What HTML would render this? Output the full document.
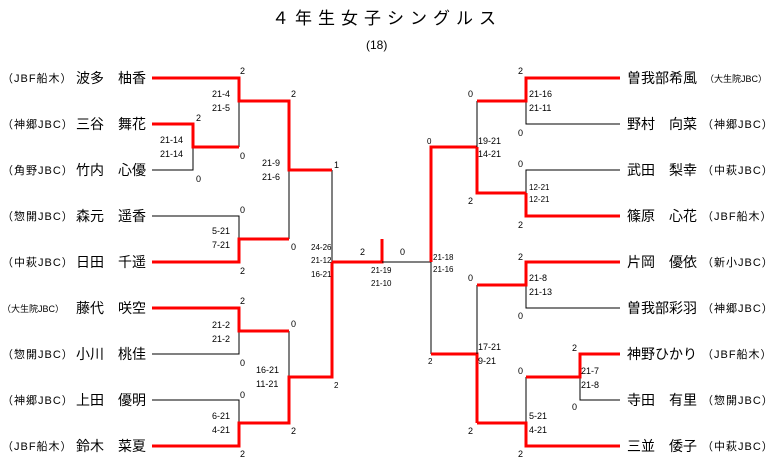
<!DOCTYPE html>
<html><head><meta charset="utf-8"><style>
html,body{margin:0;padding:0;background:#fff;width:773px;height:470px;overflow:hidden}
svg{display:block}
text{font-family:"Liberation Sans","Noto Sans CJK JP",sans-serif;fill:#000}
.s{font-size:9px}
.n{font-size:14px}
.a{font-size:11px;letter-spacing:1px}
.r{stroke:#f00;stroke-width:3;fill:none}
.b{stroke:#000;stroke-width:1;fill:none}
path{shape-rendering:crispEdges}
</style></head><body>
<svg width="773" height="470" xmlns="http://www.w3.org/2000/svg">
<text x="272" y="24" style="font-size:17px;letter-spacing:6px">４年生女子シングルス</text>
<text x="366" y="49" style="font-size:12px">(18)</text>

<text x="2" y="82" class="a">（JBF船木）</text>
<text x="2" y="128" class="a">（神郷JBC）</text>
<text x="2" y="174" class="a">（角野JBC）</text>
<text x="2" y="220" class="a">（惣開JBC）</text>
<text x="2" y="266" class="a">（中萩JBC）</text>
<text x="2" y="312" style="font-size:9px">（大生院JBC）</text>
<text x="2" y="358" class="a">（惣開JBC）</text>
<text x="2" y="404" class="a">（神郷JBC）</text>
<text x="2" y="450" class="a">（JBF船木）</text>

<text x="76" y="83" class="n">波多</text><text x="118" y="83" class="n">柚香</text>
<text x="76" y="129" class="n">三谷</text><text x="118" y="129" class="n">舞花</text>
<text x="76" y="175" class="n">竹内</text><text x="118" y="175" class="n">心優</text>
<text x="76" y="221" class="n">森元</text><text x="118" y="221" class="n">遥香</text>
<text x="76" y="267" class="n">日田</text><text x="118" y="267" class="n">千遥</text>
<text x="76" y="313" class="n">藤代</text><text x="118" y="313" class="n">咲空</text>
<text x="76" y="359" class="n">小川</text><text x="118" y="359" class="n">桃佳</text>
<text x="76" y="405" class="n">上田</text><text x="118" y="405" class="n">優明</text>
<text x="76" y="451" class="n">鈴木</text><text x="118" y="451" class="n">菜夏</text>

<text x="627" y="83" class="n">曽我部希風</text><text x="705" y="82" style="font-size:9px">（大生院JBC）</text>
<text x="627" y="129" class="n">野村</text><text x="669" y="129" class="n">向菜</text><text x="702" y="128" class="a">（神郷JBC）</text>
<text x="627" y="175" class="n">武田</text><text x="669" y="175" class="n">梨幸</text><text x="702" y="174" class="a">（中萩JBC）</text>
<text x="627" y="221" class="n">篠原</text><text x="669" y="221" class="n">心花</text><text x="702" y="220" class="a">（JBF船木）</text>
<text x="627" y="267" class="n">片岡</text><text x="669" y="267" class="n">優依</text><text x="702" y="266" class="a">（新小JBC）</text>
<text x="627" y="313" class="n">曽我部彩羽</text><text x="702" y="312" class="a">（神郷JBC）</text>
<text x="627" y="359" class="n">神野ひかり</text><text x="702" y="358" class="a">（JBF船木）</text>
<text x="627" y="405" class="n">寺田</text><text x="669" y="405" class="n">有里</text><text x="702" y="404" class="a">（惣開JBC）</text>
<text x="627" y="451" class="n">三並</text><text x="669" y="451" class="n">倭子</text><text x="702" y="450" class="a">（中萩JBC）</text>

<path class="b" d="M239 101V147 M152 170H193V147 M152 216H239V239 M289 170V239 M332 170V262 M152 354H239V331 M289 331V377 M152 400H239V423"/>
<path class="r" d="M152 78H239V101H289V170H332 M152 124H193V147H239 M152 262H239V239H289 M332 262H382V239 M152 308H239V331H289 M152 446H239V423H289V377H332V262"/>
<path class="b" d="M382 262H431V354"/>
<path class="r" d="M431 262V147H477 M431 354H477V423"/>
<path class="b" d="M477 101V147 M620 124H526V101 M620 170H526V193 M477 285V354 M620 308H526V285 M526 377V423 M620 400H580V377"/>
<path class="r" d="M620 78H526V101H477 M477 147V193H526 M620 216H526V193 M620 262H526V285H477 M477 423H526V446H620 M526 377H580V354H620"/>

<g class="s">
<text x="240" y="74">2</text><text x="212" y="97">21-4</text><text x="212" y="111">21-5</text>
<text x="196" y="121">2</text><text x="160" y="143">21-14</text><text x="160" y="157">21-14</text>
<text x="196" y="182">0</text><text x="240" y="159">0</text>
<text x="291" y="97">2</text><text x="262" y="166">21-9</text><text x="262" y="180">21-6</text><text x="334" y="168">1</text>
<text x="240" y="213">0</text><text x="212" y="234">5-21</text><text x="212" y="248">7-21</text>
<text x="291" y="250">0</text><text x="240" y="274">2</text>
<text x="311" y="250" style="font-size:8px">24-26</text><text x="311" y="263" style="font-size:8px">21-12</text><text x="311" y="277" style="font-size:8px">16-21</text>
<text x="360" y="255">2</text><text x="400" y="255">0</text>
<text x="371" y="273" style="font-size:8px">21-19</text><text x="371" y="286" style="font-size:8px">21-10</text>
<text x="433" y="260" style="font-size:8px">21-18</text><text x="433" y="272" style="font-size:8px">21-16</text>
<text x="240" y="304">2</text><text x="212" y="328">21-2</text><text x="212" y="342">21-2</text><text x="240" y="366">0</text>
<text x="291" y="327">0</text><text x="256" y="373">16-21</text><text x="256" y="387">11-21</text>
<text x="240" y="398">0</text><text x="212" y="419">6-21</text><text x="212" y="433">4-21</text>
<text x="291" y="434">2</text><text x="240" y="457">2</text><text x="334" y="388" style="font-size:8px">2</text>

<text x="518" y="74">2</text><text x="529" y="97">21-16</text><text x="529" y="111">21-11</text><text x="518" y="136">0</text>
<text x="468" y="97">0</text><text x="478" y="144">19-21</text><text x="478" y="157">14-21</text>
<text x="427" y="144" style="font-size:8px">0</text>
<text x="518" y="167">0</text><text x="529" y="190" style="font-size:8px">12-21</text><text x="529" y="202" style="font-size:8px">12-21</text>
<text x="468" y="204">2</text><text x="518" y="228">2</text>
<text x="518" y="260">2</text><text x="529" y="281">21-8</text><text x="529" y="295">21-13</text><text x="518" y="319">0</text>
<text x="468" y="281">0</text><text x="478" y="350">17-21</text><text x="478" y="364">9-21</text>
<text x="428" y="364" style="font-size:8px">2</text>
<text x="572" y="351">2</text><text x="581" y="374">21-7</text><text x="581" y="388">21-8</text><text x="572" y="410">0</text>
<text x="518" y="374">0</text><text x="529" y="419">5-21</text><text x="529" y="433">4-21</text>
<text x="468" y="434">2</text><text x="518" y="457">2</text>
</g>
</svg>
</body></html>
